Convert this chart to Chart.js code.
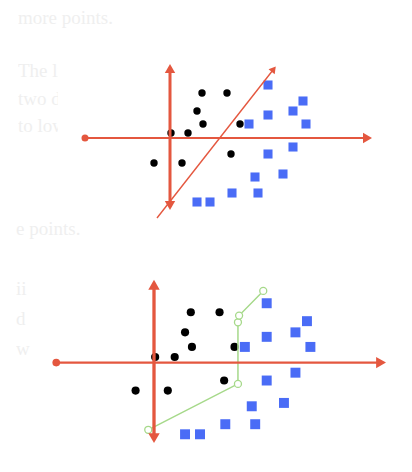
<!doctype html>
<html lang="en">
<head>
<meta charset="utf-8">
<style>
  body { margin: 0; width: 412px; height: 472px; background: #fff; position: relative; overflow: hidden; font-family: "Liberation Serif", "DejaVu Serif", serif; }
  .bg { position: absolute; color: #efefef; font-size: 19px; line-height: 20px; white-space: nowrap; overflow: hidden; }
  .plot { position: absolute; }
</style>
</head>
<body>
  <!-- faint page text behind the pictures -->
  <div class="bg" style="left:18px; top:8px; width:120px;">more points.</div>
  <div class="bg" style="left:18px; top:61px; width:40px;">The line</div>
  <div class="bg" style="left:18px; top:89px; width:40px;">two dots</div>
  <div class="bg" style="left:18px; top:116px; width:40px;">to lower</div>
  <div class="bg" style="left:16px; top:219px; width:70px;">e points.</div>
  <div class="bg" style="left:16px; top:279px; width:16px;">ii</div>
  <div class="bg" style="left:16px; top:309px; width:16px;">d</div>
  <div class="bg" style="left:16px; top:339px; width:16px;">w</div>

  <div class="plot" style="left:70.4px; top:57.5px; width:320px; height:170px;"><canvas id="topChart"></canvas></div>
  <div class="plot" style="left:39.3px; top:273.1px; width:368px; height:190.4px;"><canvas id="bottomChart"></canvas></div>

<script src="https://cdn.jsdelivr.net/npm/chart.js"></script>
<script>
  // class A (black dots)
  var dotX = [3.2, 5.7, 2.7, 3.3, 7.0, 0.1, 1.8, 6.1, -1.6, 1.2];
  var dotY = [4.5, 4.5, 2.7, 1.4, 1.4, 0.5, 0.5, -1.6, -2.5, -2.5];
  // class B (blue squares)
  var boxX = [9.8, 13.3, 12.3, 9.8, 7.9, 13.6, 12.3, 9.8, 11.3, 8.5, 6.2, 8.8, 2.7, 4.0];
  var boxY = [5.3, 3.7, 2.7, 2.3, 1.4, 1.4, -0.9, -1.6, -3.6, -3.9, -5.5, -5.5, -6.4, -6.4];
  // axes ends
  var axisXFrom = -8.5, axisXTo = 19.6;
  var axisYFrom = -6.6, axisYTo = 6.8;
  // straight separating line (top picture)
  var lineX = [-1.3, 10.3];
  var lineY = [-8.0, 6.8];
  // bent separating path (bottom picture)
  var pathX = [-0.5, 7.3, 7.3, 7.4, 9.5];
  var pathY = [-6.0, -1.9, 3.6, 4.2, 6.4];

  var RED = '#e4573f', BLUE = '#4a6cf6', GREEN = '#a6d98a';

  function pts(xs, ys) {
    return xs.map(function(x, i) { return { x: x, y: ys[i] }; });
  }

  function makeChart(id, k, withPath) {
    var datasets = [
      {
        data: [{ x: axisXFrom, y: 0 }, { x: axisXTo, y: 0 }],
        showLine: true, borderColor: RED, borderWidth: 2.2 * k,
        pointStyle: ['circle', 'triangle'], rotation: [0, 90],
        pointRadius: [3.5 * k, 6 * k], backgroundColor: RED, pointBorderWidth: 0
      },
      {
        data: [{ x: 0, y: axisYTo }, { x: 0, y: axisYFrom }],
        showLine: true, borderColor: RED, borderWidth: 3 * k,
        pointStyle: 'triangle', rotation: [0, 180],
        pointRadius: 6 * k, backgroundColor: RED, pointBorderWidth: 0
      }
    ];
    if (withPath) {
      datasets.push({
        data: pts(pathX, pathY),
        showLine: true, borderColor: GREEN, borderWidth: 1.5,
        pointStyle: 'circle', pointRadius: 3.5, backgroundColor: '#fff',
        pointBorderColor: GREEN, pointBorderWidth: 1.3
      });
    } else {
      datasets.push({
        data: pts(lineX, lineY),
        showLine: true, borderColor: RED, borderWidth: 1.4,
        pointStyle: [false, 'triangle'], rotation: [0, 38],
        pointRadius: [0, 4.5], backgroundColor: RED, pointBorderWidth: 0
      });
    }
    datasets.push({
      data: pts(dotX, dotY),
      pointStyle: 'circle', pointRadius: 3.7 * k,
      backgroundColor: '#000', pointBorderWidth: 0
    });
    datasets.push({
      data: pts(boxX, boxY),
      pointStyle: 'rect', pointRadius: 6.4 * k,
      backgroundColor: BLUE, pointBorderWidth: 0
    });

    return new Chart(document.getElementById(id), {
      type: 'scatter',
      data: { datasets: datasets },
      options: {
        responsive: true,
        maintainAspectRatio: false,
        animation: false,
        clip: false,
        layout: { padding: 0, autoPadding: false },
        plugins: { legend: { display: false }, tooltip: { enabled: false } },
        elements: { point: { hoverRadius: 0 } },
        scales: {
          x: { type: 'linear', min: -10, max: 22, display: false },
          y: { type: 'linear', min: -9, max: 8, display: false }
        }
      }
    });
  }

  makeChart('topChart', 1, false);
  makeChart('bottomChart', 1.1, true);
</script>
</body>
</html>
